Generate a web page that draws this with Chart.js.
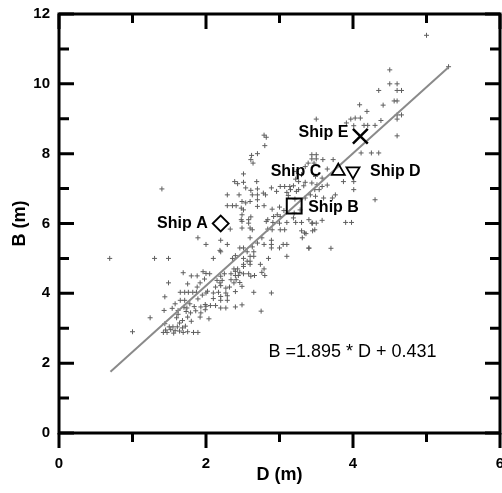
<!DOCTYPE html>
<html>
<head>
<meta charset="utf-8">
<script src="https://cdn.jsdelivr.net/npm/chart.js@4.4.1/dist/chart.umd.min.js"></script>
<style>
  html, body { margin: 0; padding: 0; background: #fff; }
  #wrap { width: 502px; height: 493px; }
</style>
</head>
<body>
<div id="wrap"><canvas id="chart" width="502" height="493"></canvas></div>
<script>
// Ship draught D (m) vs beam B (m) with linear fit

const ptsD = [
  0.69, 1.30, 1.49, 1.89, 2.00, 1.69, 1.80, 1.88, 2.00, 1.49, 1.75, 1.88, 1.65, 1.71, 1.76, 1.82, 1.87, 1.44, 2.00, 1.65,
  1.71, 1.89, 1.54, 1.43, 1.62, 1.73, 1.79, 1.75, 1.86, 1.93, 2.00, 1.92, 2.04, 1.24, 1.44, 1.50, 1.55, 1.61, 1.64, 1.68,
  1.72, 1.75, 1.83, 1.89, 1.00, 1.42, 1.47, 1.56, 1.64, 1.69, 1.45, 1.52, 1.58, 1.60, 1.70, 1.78, 1.84, 1.95, 1.58, 1.62,
  1.68, 1.80, 1.74, 1.92, 1.96,
  2.60, 2.76, 3.31, 3.36, 2.20, 2.29, 2.70, 2.79, 2.89, 2.89, 2.89, 2.46, 2.51, 2.63, 2.65, 3.00, 3.05, 3.10, 3.40, 2.20,
  2.56, 2.60, 2.65, 2.10, 2.36, 2.40, 2.51, 2.56, 2.60, 2.60, 2.85, 3.10, 2.51, 2.51, 2.74, 2.79, 2.76, 2.38, 2.40, 2.43,
  2.46, 2.05, 2.20, 2.25, 2.34, 2.40, 2.44, 2.51, 2.58, 2.61, 2.66, 2.80, 2.15, 2.22, 2.19, 2.34, 2.38, 2.41, 2.46, 1.98,
  2.13, 2.20, 2.27, 2.32, 2.49, 2.02, 2.10, 2.17, 2.20, 2.27, 2.29, 2.40, 2.65, 2.89, 2.10, 2.20, 2.29, 1.99, 2.06, 2.13,
  2.20, 2.27, 2.40, 2.49, 1.99, 1.93, 2.75, 2.19,
  1.40, 2.79, 2.82, 2.80, 2.70, 2.61, 2.64, 2.51, 2.39, 2.43, 2.54, 2.61, 2.70, 2.29, 2.45, 2.63, 2.70, 2.81, 3.01, 3.10,
  2.49, 2.54, 2.60, 2.70, 2.29, 2.36, 2.41, 2.48, 2.51, 2.70, 2.79, 2.90, 3.00, 3.06, 2.49, 2.61, 2.48, 2.49, 2.58, 2.58,
  2.84, 2.92, 3.01, 3.00, 2.33, 2.49, 2.60, 2.63, 2.84, 2.90, 3.01, 2.51, 2.69, 2.78, 2.97, 2.82, 2.91, 3.07, 2.89, 2.96,
  3.07, 3.14, 2.62,
  3.50, 3.97, 4.03, 4.10, 3.91, 4.01, 3.44, 3.50, 3.44, 3.50, 3.39, 3.47, 3.59, 3.65, 3.73, 3.35, 3.23, 3.30, 3.49, 3.58,
  3.22, 3.26, 3.35, 3.33, 3.19, 3.26, 3.44, 3.51, 3.58, 3.65, 3.48, 3.54, 3.87, 4.01, 4.01, 3.42, 3.49, 3.60, 3.72, 3.76,
  4.30, 3.21, 3.35, 3.15, 3.12, 3.19, 3.22, 3.40, 3.44, 3.90, 3.98, 3.58, 3.23, 3.20, 3.28, 3.30, 3.48, 3.34, 3.70, 3.40,
  3.30, 3.45, 3.10, 3.45, 3.50,
  5.00, 5.30, 4.50, 4.50, 4.60, 4.35, 4.60, 4.66, 4.56, 4.60, 4.41, 4.09, 4.19, 4.60, 4.66, 4.60, 4.38, 4.15, 4.20, 4.30,
  4.60, 4.11, 4.25, 4.35
];

const ptsB = [
  5.00, 5.00, 5.00, 5.59, 5.40, 4.59, 4.50, 4.50, 4.57, 4.30, 4.27, 4.18, 4.03, 4.03, 4.03, 4.03, 4.03, 3.90, 4.01, 3.80,
  3.80, 3.84, 3.57, 3.51, 3.51, 3.48, 3.44, 3.32, 3.50, 3.61, 3.63, 3.32, 3.27, 3.30, 3.13, 3.04, 3.04, 3.04, 3.15, 3.01,
  3.06, 2.90, 2.88, 2.88, 2.90, 2.88, 2.88, 2.86, 2.92, 2.88, 2.95, 2.96, 2.93, 3.30, 3.60, 3.70, 3.62, 3.95, 3.70, 3.40,
  3.22, 3.20, 3.58, 4.30, 4.62,
  5.59, 5.59, 5.59, 5.71, 5.52, 5.40, 5.44, 5.40, 5.52, 5.40, 5.30, 5.30, 5.30, 5.33, 5.19, 5.30, 5.40, 5.40, 5.30, 5.19,
  5.19, 5.06, 5.06, 5.00, 5.00, 5.08, 5.00, 4.92, 4.92, 4.83, 5.00, 5.06, 4.83, 4.77, 4.83, 4.70, 4.60, 4.70, 4.63, 4.70,
  4.60, 4.56, 4.49, 4.56, 4.56, 4.51, 4.51, 4.56, 4.56, 4.49, 4.51, 4.51, 4.37, 4.37, 4.30, 4.39, 4.30, 4.39, 4.31, 4.41,
  4.18, 4.22, 4.15, 4.18, 4.20, 4.06, 4.01, 4.03, 3.91, 4.01, 3.93, 4.05, 4.03, 4.01, 3.85, 3.80, 3.80, 3.68, 3.65, 3.65,
  3.58, 3.58, 3.61, 3.67, 3.53, 3.44, 3.49, 5.23,
  6.99, 8.53, 8.47, 8.23, 8.00, 7.83, 7.73, 7.42, 7.20, 7.14, 7.02, 6.95, 6.99, 6.82, 6.82, 6.82, 6.82, 6.82, 7.06, 6.89,
  6.63, 6.59, 6.63, 6.68, 6.51, 6.51, 6.51, 6.44, 6.39, 6.49, 6.51, 6.41, 6.47, 6.37, 6.25, 6.19, 6.11, 6.06, 6.11, 6.01,
  6.11, 6.20, 6.20, 6.01, 5.84, 5.87, 5.87, 5.82, 5.84, 5.82, 5.82, 7.18, 7.20, 6.87, 6.25, 6.06, 6.03, 5.82, 7.02, 6.92,
  7.06, 7.06, 7.95,
  8.99, 8.99, 9.02, 9.02, 8.88, 8.80, 7.97, 7.97, 7.85, 7.85, 7.73, 7.73, 7.83, 7.56, 7.83, 7.63, 7.49, 7.40, 7.35, 7.30,
  7.27, 7.20, 7.18, 7.08, 7.08, 6.97, 7.16, 7.11, 7.06, 7.10, 6.97, 6.97, 7.20, 7.20, 6.97, 6.82, 6.78, 6.73, 6.73, 6.82,
  6.68, 6.70, 6.73, 6.97, 6.80, 6.16, 6.03, 6.11, 6.01, 6.03, 6.03, 6.09, 6.92, 6.30, 6.39, 6.03, 5.82, 5.73, 5.29, 5.29,
  5.79, 5.79, 6.03, 6.01, 6.01,
  11.39, 10.49, 10.40, 10.00, 10.00, 9.81, 9.81, 9.81, 9.51, 9.51, 9.39, 9.40, 9.21, 9.11, 9.11, 8.99, 8.95, 8.81, 8.81, 8.81,
  8.51, 8.02, 8.02, 8.02
];

// fitted line B = 1.895 * D + 0.431, drawn across the data range
const fitSlope = 1.895;
const fitIntercept = 0.431;
const fitRange = [0.7, 5.3];

// highlighted ships
const shipNames = ['Ship A', 'Ship B', 'Ship C', 'Ship D', 'Ship E'];
const shipD = [2.2, 3.2, 3.8, 4.0, 4.1];
const shipB = [6.0, 6.5, 7.5, 7.5, 8.5];

const xTicks = [0, 2, 4, 6];
const yTicks = [0, 2, 4, 6, 8, 10, 12];

const FONT = "'Liberation Sans', Arial, sans-serif";
Chart.defaults.font.family = FONT;
Chart.defaults.color = '#000';

// label placement relative to each ship marker (px)
const shipLabelPos = [
  { dx: -13, dy: 0, align: 'right' },
  { dx: 14, dy: 2, align: 'left' },
  { dx: -17, dy: 0, align: 'right' },
  { dx: 17, dy: 0, align: 'left' },
  { dx: -12, dy: -4, align: 'right' }
];

const frameAndLabels = {
  id: 'frameAndLabels',
  afterDraw(chart) {
    const { ctx, chartArea: a, scales: { x, y } } = chart;
    ctx.save();

    // box + tick marks (inward on left/top/right, outward at the bottom)
    ctx.strokeStyle = '#000';
    ctx.lineWidth = 3;
    ctx.strokeRect(a.left, a.top, a.right - a.left, a.bottom - a.top);
    ctx.beginPath();
    for (let v = 0; v <= 6; v++) {
      const px = x.getPixelForValue(v);
      const len = v % 2 === 0 ? 15 : 9;
      ctx.moveTo(px, a.top); ctx.lineTo(px, a.top + len);
      ctx.moveTo(px, a.bottom); ctx.lineTo(px, a.bottom + len);
    }
    for (let v = 0; v <= 12; v++) {
      const py = y.getPixelForValue(v);
      const len = v % 2 === 0 ? 15 : 10;
      ctx.moveTo(a.left, py); ctx.lineTo(a.left + len, py);
      ctx.moveTo(a.right, py); ctx.lineTo(a.right - len, py);
    }
    ctx.stroke();

    // ship names
    ctx.fillStyle = '#000';
    ctx.font = 'bold 16px ' + FONT;
    ctx.textBaseline = 'middle';
    shipNames.forEach((name, i) => {
      const p = shipLabelPos[i];
      ctx.textAlign = p.align;
      ctx.fillText(name, x.getPixelForValue(shipD[i]) + p.dx, y.getPixelForValue(shipB[i]) + p.dy);
    });

    // regression equation
    ctx.font = '18px ' + FONT;
    ctx.textAlign = 'left';
    ctx.fillText('B =' + fitSlope + ' * D + ' + fitIntercept, x.getPixelForValue(2.85), y.getPixelForValue(2.33));
    ctx.restore();
  }
};

const scatterData = ptsD.map((d, i) => ({ x: d, y: ptsB[i] }));
const fitData = fitRange.map(d => ({ x: d, y: fitSlope * d + fitIntercept }));
const shipData = shipD.map((d, i) => ({ x: d, y: shipB[i] }));

new Chart(document.getElementById('chart'), {
  type: 'scatter',
  data: {
    datasets: [
      {
        label: 'ships',
        data: shipData,
        order: 1,
        pointStyle: ['rectRot', 'rect', 'triangle', 'triangle', 'crossRot'],
        rotation: [0, 0, 0, 180, 0],
        pointRadius: [8, 10.5, 7.5, 7.5, 10.5],
        borderColor: '#000',
        backgroundColor: 'rgba(0,0,0,0)',
        borderWidth: [1.8, 2, 1.8, 1.8, 2.5]
      },
      {
        type: 'line',
        label: 'fit',
        data: fitData,
        order: 2,
        borderColor: '#8a8a8a',
        borderWidth: 2,
        pointRadius: 0,
        fill: false
      },
      {
        label: 'data',
        data: scatterData,
        order: 3,
        pointStyle: 'cross',
        pointRadius: 2.5,
        borderWidth: 1,
        borderColor: '#5f5f5f'
      }
    ]
  },
  options: {
    responsive: false,
    animation: false,
    events: [],
    layout: { autoPadding: false, padding: { top: 14, right: 2, left: 0, bottom: 0 } },
    plugins: { legend: { display: false }, tooltip: { enabled: false } },
    scales: {
      x: {
        type: 'linear',
        min: 0,
        max: 6,
        afterBuildTicks(s) { s.ticks = xTicks.map(v => ({ value: v })); },
        ticks: { font: { size: 15, weight: 'bold' }, color: '#000', padding: 22, maxRotation: 0 },
        grid: { display: false, drawTicks: false },
        border: { display: false },
        title: { display: true, text: 'D (m)', font: { size: 18, weight: 'bold' }, color: '#000', padding: { top: 0, bottom: 7 } },
        afterFit(s) { s.height = 60; s.paddingLeft = 0; s.paddingRight = 0; }
      },
      y: {
        type: 'linear',
        min: 0,
        max: 12,
        afterBuildTicks(s) { s.ticks = yTicks.map(v => ({ value: v })); },
        ticks: { font: { size: 15, weight: 'bold' }, color: '#000', padding: 9 },
        grid: { display: false, drawTicks: false },
        border: { display: false },
        title: { display: true, text: 'B (m)', font: { size: 18, weight: 'bold' }, color: '#000', padding: { top: 9, bottom: 0 } },
        afterFit(s) { s.width = 59; s.paddingTop = 0; s.paddingBottom = 0; }
      }
    }
  },
  plugins: [frameAndLabels]
});
</script>
</body>
</html>
